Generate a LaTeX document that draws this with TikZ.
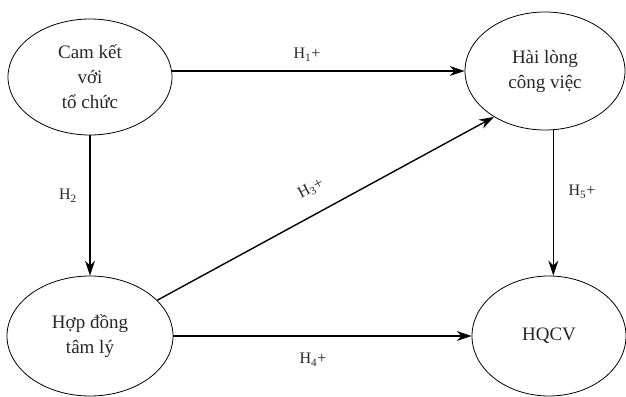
\documentclass[tikz,border=0pt]{standalone}
\usepackage{fontspec}
\setmainfont{Liberation Serif}
\usetikzlibrary{shapes.geometric,arrows.meta}
\begin{document}
\begin{tikzpicture}[x=1pt,y=-1pt,
  oval/.style={draw,ellipse,line width=0.8pt,inner sep=0pt,align=center,
    font=\fontsize{19}{25}\selectfont,text=black!85},
  arr/.style={line width=1.4pt,-{Stealth[length=15pt,width=10pt]}},
  lab/.style={font=\fontsize{16}{18}\selectfont,text=black!85,inner sep=1pt}]
\useasboundingbox (0,0) rectangle (626,396);
\node[oval,minimum width=164pt,minimum height=116pt] (n1) at (90,77) {Cam kết\\với\\tổ chức};
\node[oval,minimum width=160pt,minimum height=118pt] (n2) at (545,71) {Hài lòng\\công việc};
\node[oval,minimum width=166pt,minimum height=120pt] (n3) at (90,336) {Hợp đồng\\tâm lý};
\node[oval,minimum width=154pt,minimum height=120pt] (n4) at (549,336) {HQCV};
\draw[arr] (n1.east|-n2.west) -- (n2.west);
\draw[arr] (n1.south) -- (n3.north);
\draw[arr] (n3.28) -- (n2.222);
\draw[arr] (n3.east) -- (n4.west);
\draw[arr] (n2.-82) -- (n2.-82|-n4.north);
\node[lab] (l1) at (307,55) {H\textsubscript{1}+};
\node[lab] (l2) at (68,196) {H\textsubscript{2}};
\node[lab,rotate=28] (l3) at (311,189) {H\textsubscript{3}+};
\node[lab] (l4) at (313,360) {H\textsubscript{4}+};
\node[lab] (l5) at (582,192) {H\textsubscript{5}+};
\end{tikzpicture}
\end{document}
